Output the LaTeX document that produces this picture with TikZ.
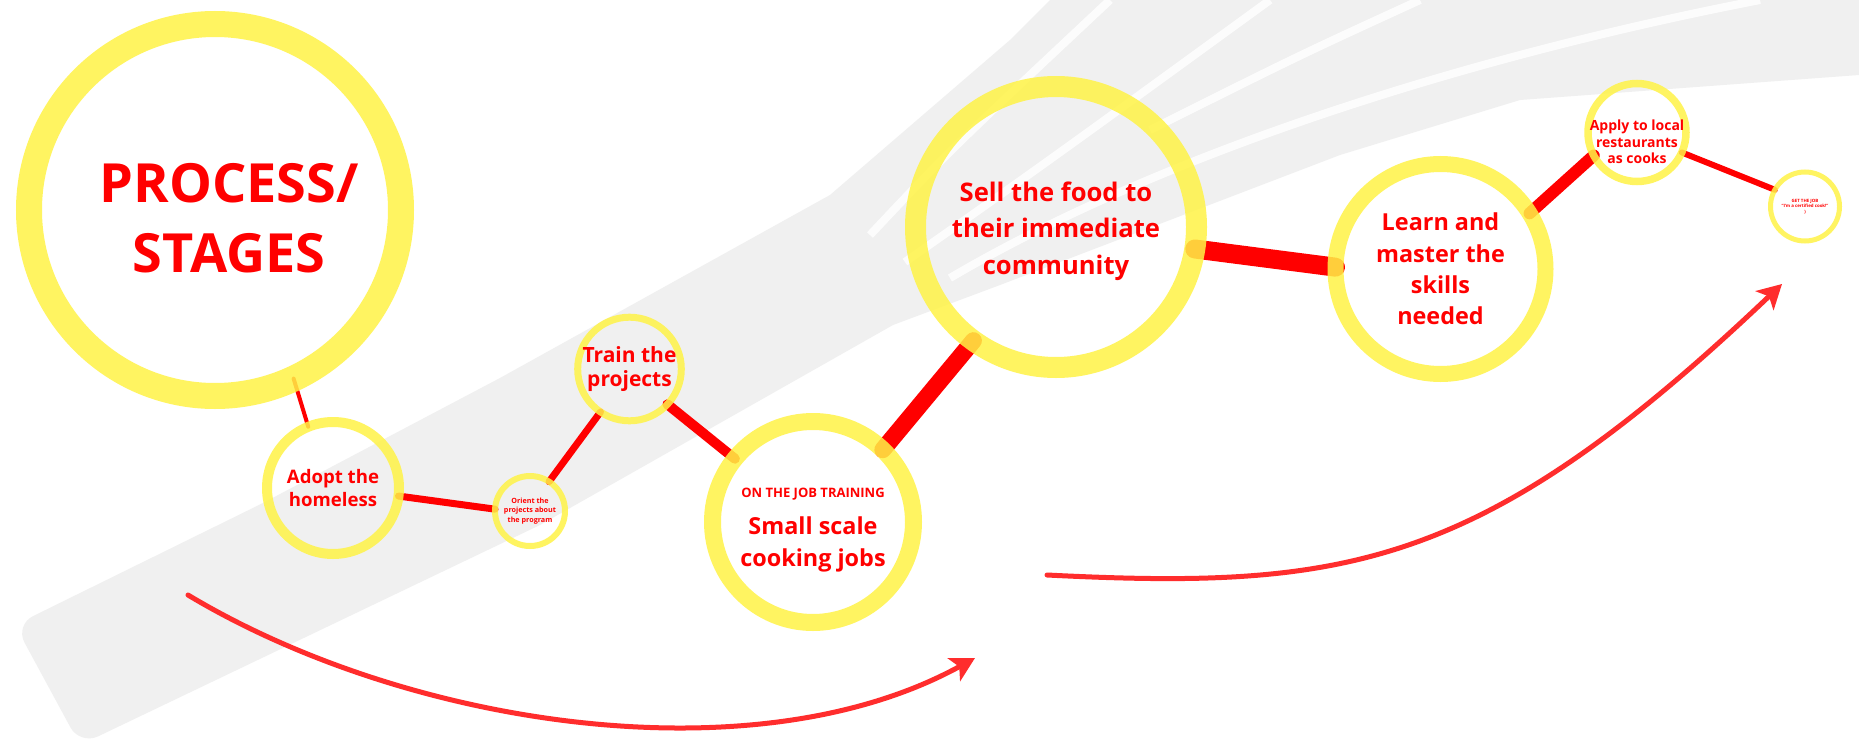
\documentclass[tikz,border=0pt]{standalone}
\usepackage{fontspec}
\setmainfont{Open Sans}
\usetikzlibrary{arrows.meta}
\definecolor{ringy}{RGB}{255,243,70}
\definecolor{linered}{RGB}{255,0,0}
\definecolor{arrowred}{RGB}{255,45,45}
\definecolor{bggray}{RGB}{240,240,240}
\pgfdeclarelayer{bg}
\pgfdeclarelayer{mid}
\pgfsetlayers{bg,mid,main}
\begin{document}
\begin{tikzpicture}[x=0.5pt,y=-0.5pt,
  stage/.style={circle, draw=ringy, draw opacity=0.85, inner sep=0pt, outer sep=0pt,
                text=linered, align=center},
  stagetext/.style={inner sep=0pt, text=linered, align=center},
  link/.style={draw=linered, line cap=round},
  flow/.style={draw=arrowred, line width=2.5pt, line cap=round,
               -{Stealth[length=12pt,width=13pt,inset=3pt]}},
  streak/.style={draw=white, line width=4pt, draw opacity=0.85}]
\useasboundingbox (0,0) rectangle (1859,744);

% stages
\node[stage, line width=13pt, minimum size=186pt] (process) at (215,210) {};
\node[stagetext, font={\fontsize{27}{35}\selectfont\bfseries}] (processtext) at (229,218) {PROCESS/\\STAGES};
\node[stage, line width=5pt, minimum size=66pt,
      font={\fontsize{9.3}{11.7}\selectfont\bfseries}] (adopt) at (333,488) {Adopt the\\homeless};
\node[stage, line width=3pt, minimum size=35pt,
      font={\fontsize{3.6}{4.85}\selectfont\bfseries}] (orient) at (530,511) {Orient the\\projects about\\the program};
\node[stage, line width=3.5pt, minimum size=50.5pt,
      font={\fontsize{10.5}{11.7}\selectfont\bfseries}] (train) at (629.5,369) {Train the\\projects};
\node[stage, line width=8.5pt, minimum size=100.5pt] (small) at (813,522) {};
\node[stagetext, font={\fontsize{11.7}{15.8}\selectfont\bfseries}] (smalltext) at (813,530)
      {{\fontsize{6.5}{8}\selectfont ON THE JOB TRAINING}\\[2.7pt]Small scale\\cooking jobs};
\node[stage, line width=10.5pt, minimum size=140.5pt] (sell) at (1056,227) {};
\node[stagetext, font={\fontsize{12.8}{18.3}\selectfont\bfseries}] (selltext) at (1056,231)
      {Sell the food to\\their immediate\\community};
\node[stage, line width=8pt, minimum size=105pt,
      font={\fontsize{11.7}{15.7}\selectfont\bfseries}] (learn) at (1440.5,269) {Learn and\\master the\\skills\\needed};
\node[stage, line width=3.75pt, minimum size=49pt] (apply) at (1637,132.5) {};
\node[stagetext, font={\fontsize{7}{8.3}\selectfont\bfseries}] (applytext) at (1637,142)
      {Apply to local\\restaurants\\as cooks};
\node[stage, line width=2.5pt, minimum size=34.5pt,
      font={\fontsize{2.2}{2.8}\selectfont\bfseries}] (getjob) at (1805,206.5) {GET THE JOB\\“I’m a certified cook!”\\)};

% background fork
\begin{pgfonlayer}{bg}
\fill[white] (0,0) rectangle (1859,744);
\fill[bggray, rounded corners=10pt] (263,503) -- (15,625) -- (80,745) [rounded corners=0pt]
  -- (540,525) -- (893,325) -- (1000,285) -- (1340,155) -- (1520,100) -- (1859,75)
  -- (1859,0) -- (1050,0) -- (1010,40) -- (830,195) -- (500,378) -- cycle;
\draw[streak] (870,235) .. controls (950,150) .. (1110,0);
\draw[streak] (905,262) .. controls (1050,160) .. (1270,0);
\draw[streak] (1150,130) .. controls (1300,55) .. (1420,0);
\draw[streak] (950,278) .. controls (1150,160) and (1450,60) .. (1760,0);
\end{pgfonlayer}

% connectors
\begin{pgfonlayer}{mid}
\draw[link, line width=2pt]   (process.295) -- (adopt.112);
\draw[link, line width=3.5pt] (adopt.-7)    -- (orient.177);
\draw[link, line width=3.5pt] (orient.57)   -- (train.236);
\draw[link, line width=5pt]   (train.-43)   -- (small.141);
\draw[link, line width=8.5pt] (small.46)    -- (sell.234);
\draw[link, line width=9.5pt] (sell.-9)     -- (learn.179);
\draw[link, line width=6pt]   (learn.32)    -- (apply.208);
\draw[link, line width=3pt]   (apply.-24)   -- (getjob.151);
\end{pgfonlayer}

% flow arrows
\coordinate (a1s) at (188,595);
\coordinate (a1e) at (975,658);
\coordinate (a2s) at (1047,575);
\coordinate (a2e) at (1782,284);
\draw[flow] (a1s) .. controls (408,727) and (755,779) .. (a1e);
\draw[flow] (a2s) .. controls (1347,590) and (1482,569) .. (a2e);
\end{tikzpicture}
\end{document}
